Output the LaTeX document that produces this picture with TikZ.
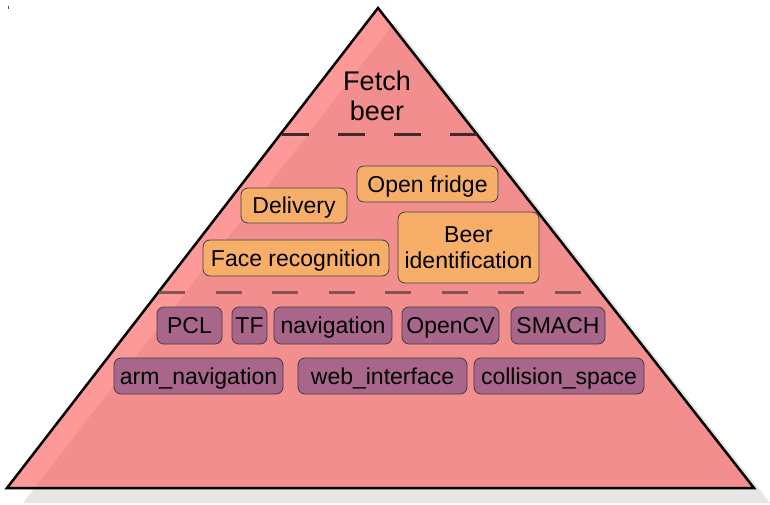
\documentclass[tikz,border=0pt]{standalone}
\usepackage{fontspec}
\setmainfont{Liberation Sans}
\definecolor{pyrlight}{HTML}{FE9999}
\definecolor{pyrdark}{HTML}{F28E8E}
\definecolor{shadowgray}{HTML}{E6E6E6}
\definecolor{taskorange}{HTML}{F6AE68}
\definecolor{pkgpurple}{HTML}{A8668A}
\definecolor{topdash}{HTML}{42292A}
\definecolor{lowdash}{HTML}{8A5252}
\tikzset{
  task/.style={draw=black!75,fill=taskorange,rounded corners=7pt,line width=0.8pt,inner sep=0pt,align=center,font=\fontsize{23}{26}\selectfont},
  oneline/.style={text height=16.5pt,text depth=0pt},
  pkg/.style={draw=black!75,fill=pkgpurple,rounded corners=7pt,line width=0.8pt,inner sep=0pt,minimum height=37pt,oneline,font=\fontsize{23}{26}\selectfont},
  layer/.style={line width=3pt}
}
\begin{document}
\begin{tikzpicture}[x=1pt,y=-1pt]
\useasboundingbox (0,0) rectangle (770,505);
\fill[shadowgray] (394,23) -- (770,503) -- (23,503) -- cycle;
\fill[pyrlight] (378,8) -- (754,488) -- (7,488) -- cycle;
\begin{scope}
\clip (378,8) -- (754,488) -- (7,488) -- cycle;
\fill[pyrdark] (394,23) -- (770,503) -- (23,503) -- cycle;
\end{scope}
\draw[line width=2.5pt,line join=miter] (378,8) -- (754,488) -- (7,488) -- cycle;
\draw[line width=1pt,black!70] (8,6) -- (8,9);
\draw[layer,topdash,dash pattern=on 27pt off 29pt] (282,135) -- (478,135);
\draw[layer,lowdash,dash pattern=on 26pt off 30.5pt] (159,292) -- (601,292);
\node[align=center,font=\fontsize{27}{30}\selectfont] (goal) at (377,96) {Fetch\\beer};
\node[task,oneline,minimum width=141pt,minimum height=36pt] (fridge) at (427.5,184) {Open fridge};
\node[task,oneline,minimum width=106pt,minimum height=35pt] (delivery) at (294,205.5) {Delivery};
\node[task,oneline,minimum width=186pt,minimum height=36pt] (face) at (296,258) {Face recognition};
\node[task,minimum width=141pt,minimum height=71pt] (beerid) at (468.5,247.5) {Beer\\identification};
\node[pkg,minimum width=65pt] (pcl) at (189.5,325.5) {PCL};
\node[pkg,minimum width=35pt] (tf) at (249.5,325.5) {TF};
\node[pkg,minimum width=118pt] (nav) at (333,325.5) {navigation};
\node[pkg,minimum width=97pt] (cv) at (450.5,325.5) {OpenCV};
\node[pkg,minimum width=94pt] (smach) at (558,325.5) {SMACH};
\node[pkg,minimum width=169pt,minimum height=36pt] (armnav) at (198.5,376) {arm\_navigation};
\node[pkg,minimum width=169pt,minimum height=36pt] (webui) at (382.5,376) {web\_interface};
\node[pkg,minimum width=170pt,minimum height=36pt] (collision) at (559,376) {collision\_space};
\end{tikzpicture}
\end{document}
